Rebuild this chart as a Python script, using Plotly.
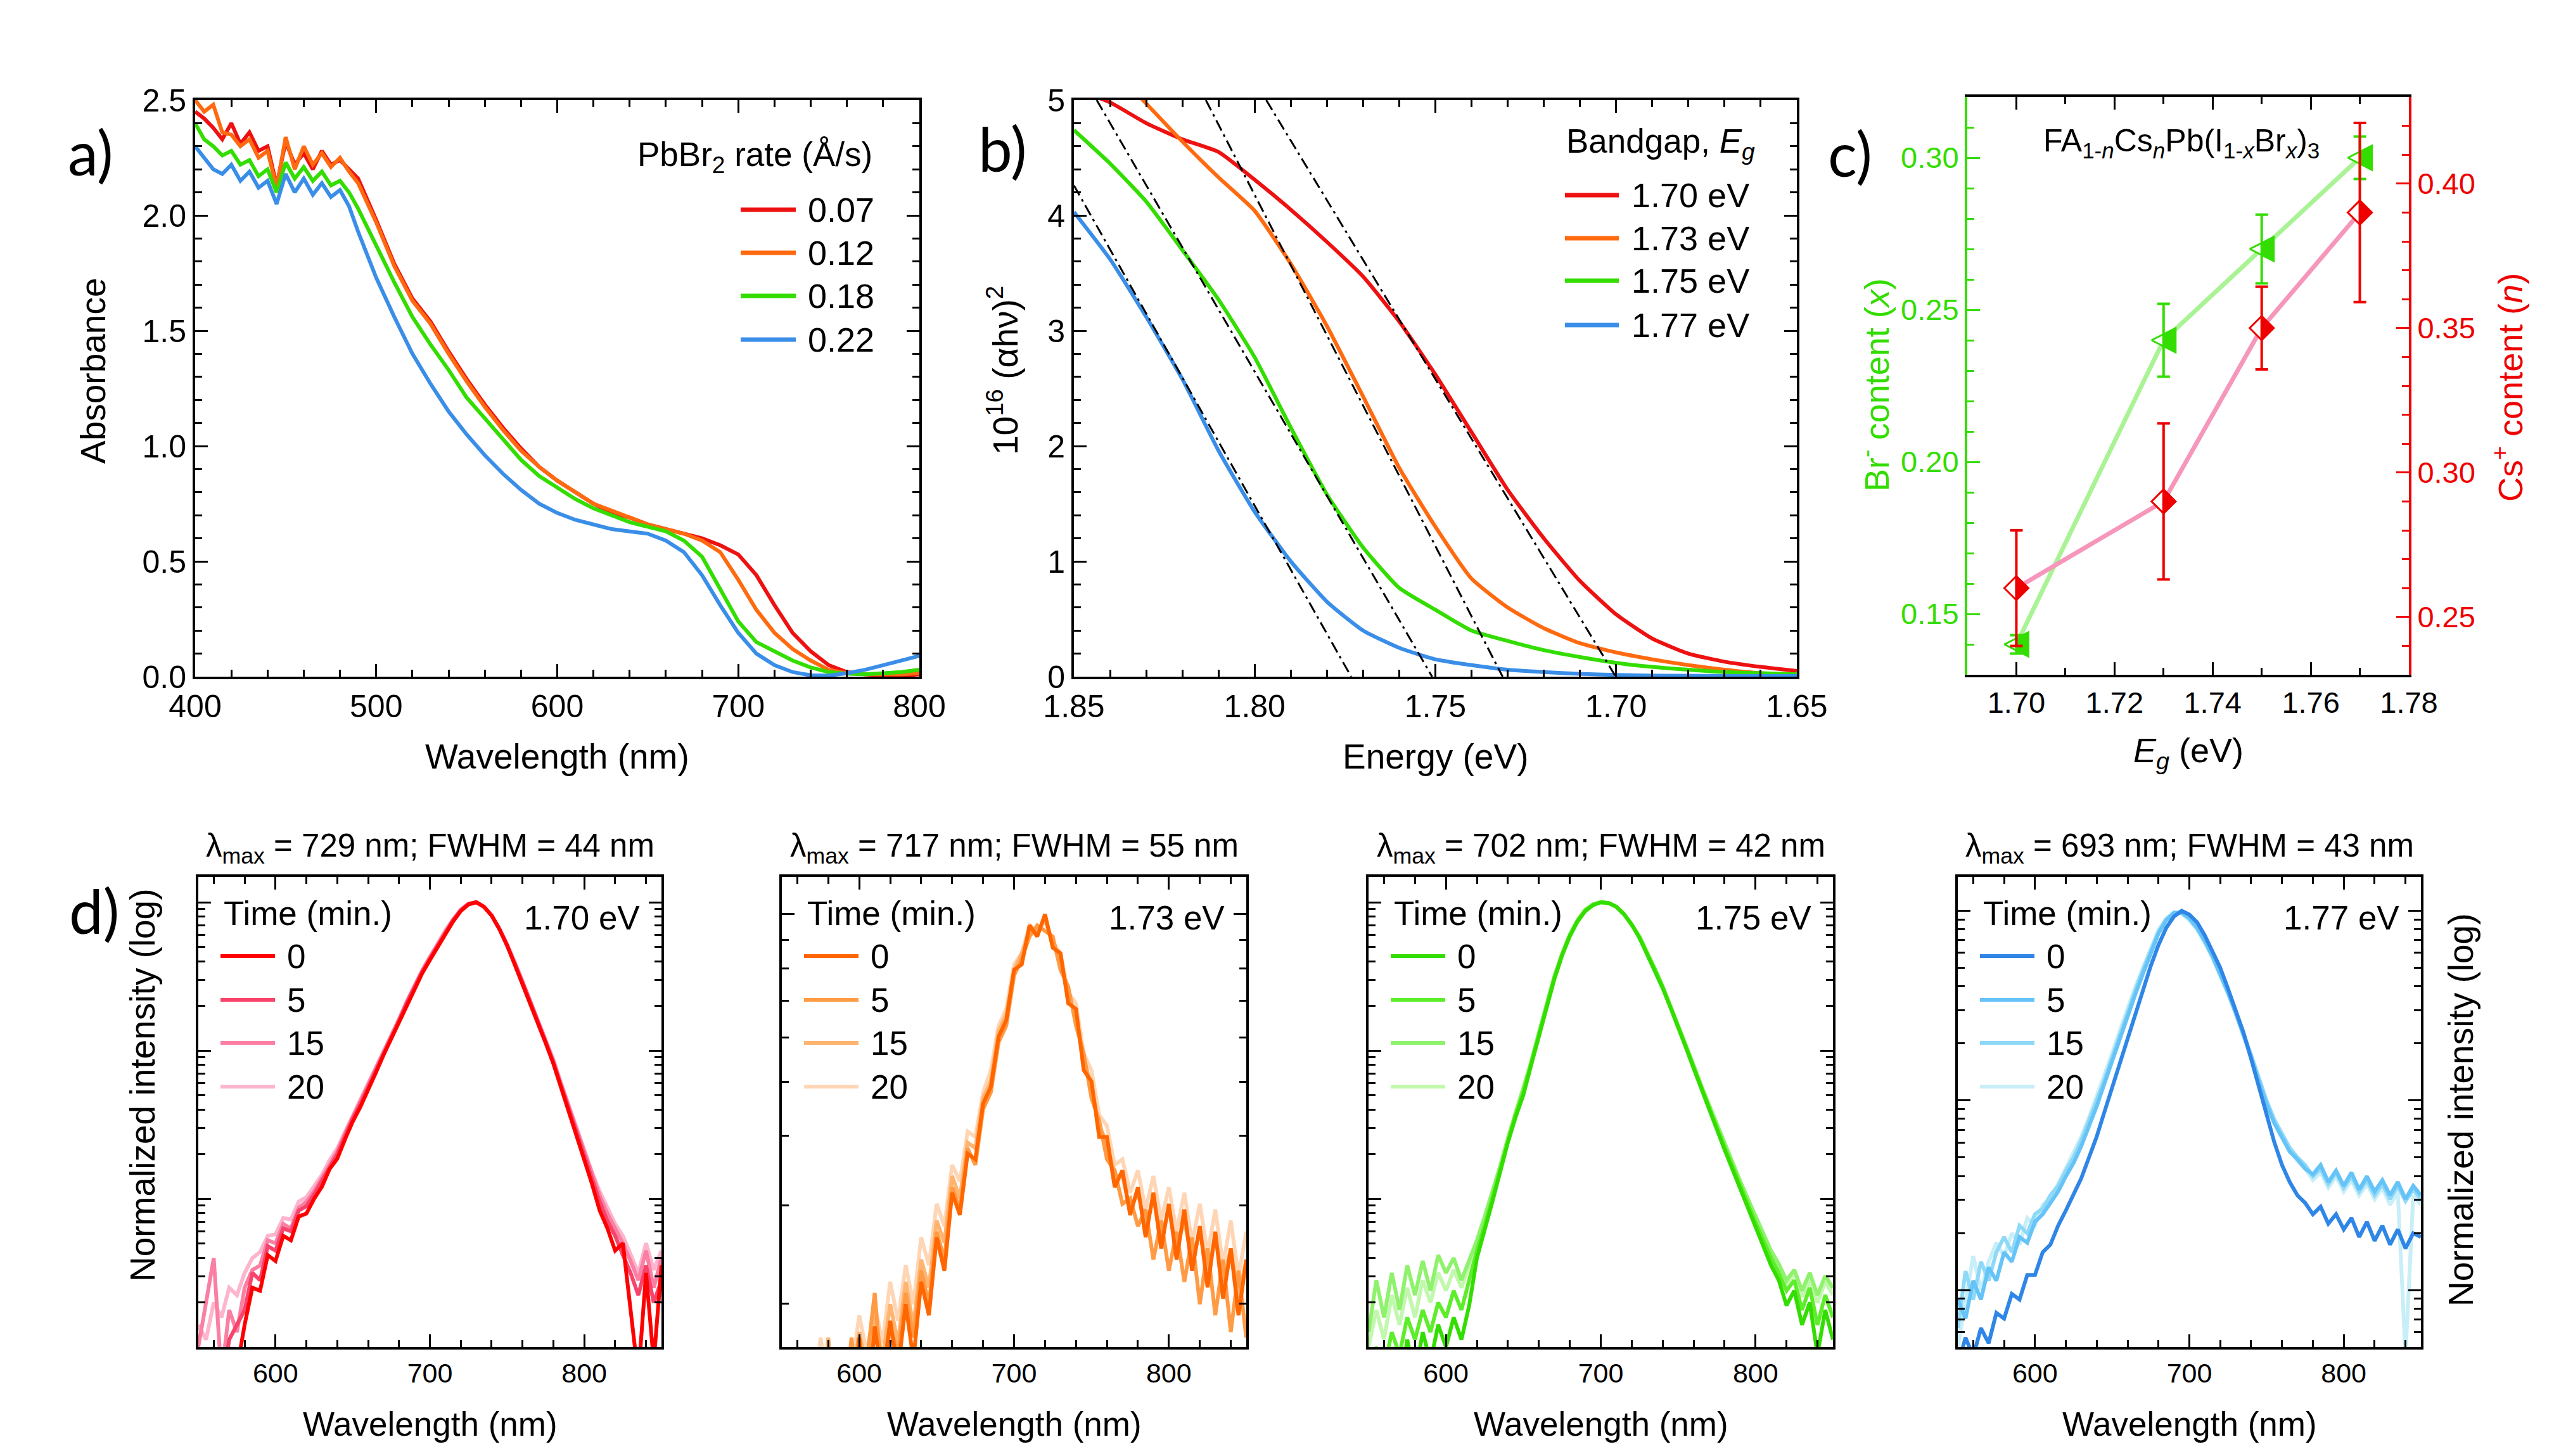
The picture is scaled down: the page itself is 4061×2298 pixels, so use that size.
import plotly.graph_objects as go

W, H = 4061, 2298
FONT = "Liberation Sans, Arial, Helvetica, sans-serif"
LABEL_FONT = "Lato, Open Sans, sans-serif"


def fx(p):
    return p / W


def fy(p):
    return 1 - p / H


# ---------------- panel a: absorbance ----------------
wl_abs = [400, 405, 410, 415, 420, 425, 430, 435, 440, 445, 450, 455, 460, 465, 470, 475, 480, 485, 490,
          500, 510, 520, 530, 540, 550, 560, 570, 580, 590, 600, 610, 620, 630, 640, 650, 660, 670, 680,
          690, 700, 710, 720, 730, 740, 750, 760, 770, 780, 790, 800]
abs_007 = [2.45, 2.42, 2.38, 2.33, 2.40, 2.31, 2.36, 2.28, 2.30, 2.13, 2.32, 2.22, 2.27, 2.20, 2.28, 2.22, 2.24, 2.20, 2.16,
           1.98, 1.79, 1.64, 1.54, 1.41, 1.29, 1.18, 1.08, 0.99, 0.91, 0.85, 0.80, 0.75, 0.71, 0.69, 0.66, 0.64, 0.62, 0.60,
           0.57, 0.53, 0.44, 0.31, 0.19, 0.11, 0.05, 0.02, 0.01, 0.005, 0.005, 0.01]
abs_012 = [2.50, 2.45, 2.48, 2.36, 2.35, 2.30, 2.33, 2.25, 2.28, 2.12, 2.34, 2.20, 2.30, 2.22, 2.27, 2.21, 2.25, 2.19, 2.14,
           1.97, 1.78, 1.63, 1.53, 1.40, 1.28, 1.17, 1.07, 0.98, 0.91, 0.85, 0.80, 0.75, 0.72, 0.69, 0.66, 0.64, 0.62, 0.59,
           0.54, 0.42, 0.29, 0.19, 0.12, 0.07, 0.03, 0.015, 0.01, 0.01, 0.01, 0.015]
abs_018 = [2.40, 2.33, 2.30, 2.26, 2.28, 2.22, 2.24, 2.17, 2.20, 2.10, 2.23, 2.16, 2.21, 2.15, 2.19, 2.13, 2.15, 2.10, 2.03,
           1.87, 1.71, 1.56, 1.44, 1.33, 1.21, 1.12, 1.03, 0.94, 0.87, 0.82, 0.77, 0.73, 0.70, 0.67, 0.65, 0.63, 0.59, 0.52,
           0.38, 0.24, 0.15, 0.11, 0.07, 0.04, 0.02, 0.013, 0.01, 0.015, 0.02, 0.03]
abs_022 = [2.30, 2.25, 2.20, 2.18, 2.22, 2.15, 2.19, 2.12, 2.15, 2.05, 2.18, 2.10, 2.16, 2.09, 2.14, 2.08, 2.11, 2.04, 1.93,
           1.73, 1.56, 1.40, 1.27, 1.15, 1.05, 0.96, 0.88, 0.81, 0.75, 0.71, 0.68, 0.66, 0.64, 0.63, 0.62, 0.59, 0.54, 0.44,
           0.31, 0.19, 0.10, 0.05, 0.02, 0.006, 0.005, 0.015, 0.03, 0.05, 0.07, 0.09]
rate_labels = ["0.07", "0.12", "0.18", "0.22"]

# ---------------- panel b: Tauc plot ----------------
energy_b = [1.85, 1.84, 1.83, 1.82, 1.81, 1.80, 1.79, 1.78, 1.77, 1.76, 1.75, 1.74, 1.73, 1.72, 1.71, 1.70,
            1.69, 1.68, 1.67, 1.66, 1.65]
tauc_170 = [5.1, 4.98, 4.80, 4.66, 4.55, 4.31, 4.05, 3.77, 3.47, 3.08, 2.62, 2.12, 1.62, 1.20, 0.83, 0.54,
            0.33, 0.20, 0.13, 0.085, 0.05]
tauc_173 = [5.6, 5.3, 4.97, 4.64, 4.33, 4.04, 3.58, 3.04, 2.43, 1.81, 1.30, 0.85, 0.60, 0.42, 0.29, 0.21,
            0.15, 0.10, 0.06, 0.03, 0.02]
tauc_175 = [4.74, 4.45, 4.12, 3.70, 3.27, 2.77, 2.16, 1.58, 1.12, 0.77, 0.58, 0.40, 0.31, 0.23, 0.17, 0.12,
            0.085, 0.06, 0.04, 0.03, 0.02]
tauc_177 = [4.03, 3.62, 3.12, 2.58, 1.96, 1.43, 1.00, 0.65, 0.40, 0.25, 0.15, 0.10, 0.06, 0.04, 0.025, 0.015,
            0.01, 0.008, 0.006, 0.005, 0.005]
bandgap_labels = ["1.70 eV", "1.73 eV", "1.75 eV", "1.77 eV"]
# linear fits: start point (E, y) and x-intercept (Eg)
fit_start_E = [1.7968, 1.8135, 1.8437, 1.85]
fit_start_y = [5.0, 5.0, 5.0, 4.26]
fit_Eg = [1.7001, 1.7314, 1.7509, 1.7733]

# ---------------- panel c: composition ----------------
eg_c = [1.70, 1.73, 1.75, 1.77]
br_x = [0.14, 0.24, 0.27, 0.30]
br_err = [0.003, 0.012, 0.0113, 0.007]
cs_n = [0.26, 0.29, 0.35, 0.39]
cs_err = [0.020, 0.027, 0.0143, 0.031]

# ---------------- panel d: PL spectra (log10 of normalized intensity) ----------------
wl_pl = list(range(550, 855, 5))
time_labels = ["0", "5", "15", "20"]

d1_t0 = [-3.3, -3.3, -3.3, -3.3, -3.3, -3.15, -2.85, -2.6, -2.62, -2.38, -2.42, -2.25, -2.28, -2.12, -2.1, -2.0,
         -1.92, -1.8, -1.73, -1.6, -1.48, -1.38, -1.27, -1.15, -1.03, -0.92, -0.81, -0.69, -0.58, -0.48, -0.39,
         -0.3, -0.21, -0.13, -0.06, -0.015, 0.0, -0.03, -0.09, -0.18, -0.29, -0.42, -0.55, -0.68, -0.81, -0.95,
         -1.09, -1.25, -1.41, -1.57, -1.73, -1.9, -2.08, -2.2, -2.35, -2.3, -2.75, -3.2, -2.5, -3.1, -2.45]
d1_t5 = [-3.3, -3.3, -3.1, -3.3, -2.95, -2.85, -2.75, -2.5, -2.55, -2.32, -2.35, -2.2, -2.22, -2.08, -2.05, -1.97,
         -1.88, -1.78, -1.7, -1.58, -1.46, -1.36, -1.25, -1.13, -1.02, -0.91, -0.8, -0.68, -0.57, -0.47, -0.38,
         -0.29, -0.2, -0.12, -0.055, -0.012, 0.0, -0.03, -0.09, -0.18, -0.29, -0.41, -0.54, -0.67, -0.8, -0.94,
         -1.08, -1.24, -1.4, -1.55, -1.7, -1.87, -2.02, -2.15, -2.25, -2.38, -2.5, -2.65, -2.45, -2.7, -2.55]
d1_t15 = [-3.0, -2.7, -2.4, -3.2, -2.75, -2.9, -2.6, -2.48, -2.45, -2.28, -2.3, -2.17, -2.2, -2.06, -2.02, -1.95,
          -1.86, -1.76, -1.68, -1.56, -1.45, -1.35, -1.24, -1.12, -1.01, -0.9, -0.79, -0.67, -0.56, -0.46, -0.37,
          -0.28, -0.2, -0.12, -0.05, -0.01, 0.0, -0.03, -0.09, -0.18, -0.29, -0.41, -0.54, -0.67, -0.8, -0.93,
          -1.07, -1.23, -1.38, -1.53, -1.68, -1.84, -1.98, -2.1, -2.2, -2.3, -2.42, -2.55, -2.35, -2.6, -2.4]
d1_t20 = [-2.85, -2.95, -2.7, -2.8, -2.6, -2.65, -2.5, -2.4, -2.36, -2.25, -2.24, -2.13, -2.14, -2.02, -1.99, -1.92,
          -1.84, -1.74, -1.66, -1.55, -1.44, -1.34, -1.23, -1.11, -1.0, -0.89, -0.78, -0.67, -0.56, -0.46, -0.37,
          -0.28, -0.19, -0.115, -0.05, -0.01, 0.0, -0.03, -0.09, -0.18, -0.28, -0.4, -0.53, -0.66, -0.79, -0.92,
          -1.06, -1.22, -1.37, -1.52, -1.66, -1.82, -1.95, -2.06, -2.17, -2.25, -2.38, -2.5, -2.3, -2.48, -2.35]

d2_t0 = [-0.9, -0.9, -0.9, -0.9, -0.9, -0.9, -0.9, -0.9, -0.85, -0.9, -0.76, -0.9, -0.74, -0.84, -0.73, -0.82,
         -0.7, -0.8, -0.66, -0.72, -0.58, -0.64, -0.5, -0.54, -0.43, -0.44, -0.34, -0.31, -0.22, -0.19, -0.1,
         -0.09, -0.02, -0.04, 0.0, -0.06, -0.07, -0.16, -0.17, -0.28, -0.3, -0.4, -0.4, -0.49, -0.46, -0.54,
         -0.49, -0.58, -0.5, -0.6, -0.52, -0.62, -0.53, -0.64, -0.56, -0.67, -0.57, -0.69, -0.6, -0.72, -0.62]
d2_t5 = [-0.9, -0.9, -0.9, -0.9, -0.9, -0.9, -0.9, -0.9, -0.9, -0.76, -0.9, -0.8, -0.68, -0.85, -0.74, -0.79,
         -0.68, -0.76, -0.64, -0.7, -0.57, -0.62, -0.49, -0.53, -0.42, -0.45, -0.35, -0.32, -0.23, -0.2, -0.11,
         -0.08, -0.04, -0.02, -0.03, -0.04, -0.1, -0.13, -0.2, -0.25, -0.33, -0.37, -0.44, -0.46, -0.52, -0.51,
         -0.56, -0.53, -0.62, -0.55, -0.64, -0.57, -0.66, -0.58, -0.7, -0.6, -0.72, -0.62, -0.75, -0.64, -0.76]
d2_t15 = [-0.9, -0.9, -0.9, -0.9, -0.9, -0.9, -0.76, -0.9, -0.8, -0.85, -0.75, -0.82, -0.72, -0.8, -0.7, -0.77,
          -0.66, -0.74, -0.62, -0.67, -0.55, -0.59, -0.47, -0.51, -0.41, -0.42, -0.33, -0.3, -0.21, -0.18, -0.1,
          -0.07, -0.03, -0.03, -0.01, -0.05, -0.08, -0.15, -0.18, -0.26, -0.31, -0.38, -0.41, -0.47, -0.47, -0.53,
          -0.5, -0.56, -0.51, -0.58, -0.53, -0.6, -0.55, -0.62, -0.57, -0.64, -0.58, -0.66, -0.6, -0.69, -0.62]
d2_t20 = [-0.9, -0.9, -0.9, -0.9, -0.9, -0.76, -0.85, -0.9, -0.78, -0.82, -0.72, -0.79, -0.7, -0.77, -0.66, -0.73,
          -0.63, -0.7, -0.58, -0.63, -0.52, -0.56, -0.45, -0.48, -0.39, -0.4, -0.32, -0.28, -0.2, -0.17, -0.09,
          -0.07, -0.02, -0.03, -0.01, -0.05, -0.07, -0.14, -0.16, -0.25, -0.28, -0.36, -0.38, -0.45, -0.44, -0.5,
          -0.46, -0.53, -0.47, -0.55, -0.49, -0.57, -0.5, -0.59, -0.52, -0.61, -0.53, -0.63, -0.55, -0.65, -0.57]

d3_t0 = [-3.3, -3.1, -3.3, -3.05, -3.3, -2.95, -3.2, -2.9, -3.1, -2.85, -3.0, -2.8, -2.95, -2.72, -2.4, -2.22,
         -2.02, -1.82, -1.62, -1.45, -1.3, -1.1, -0.9, -0.7, -0.52, -0.36, -0.23, -0.13, -0.06, -0.02, 0.0,
         -0.005, -0.03, -0.08, -0.15, -0.24, -0.35, -0.46, -0.58, -0.71, -0.84, -0.98, -1.12, -1.26, -1.4, -1.54,
         -1.67, -1.8, -1.93, -2.06, -2.2, -2.33, -2.45, -2.55, -2.72, -2.62, -2.85, -2.7, -3.05, -2.75, -2.95]
d3_t5 = [-3.2, -3.0, -3.15, -2.9, -3.05, -2.8, -2.95, -2.75, -2.9, -2.7, -2.8, -2.62, -2.75, -2.55, -2.35, -2.18,
         -1.99, -1.8, -1.6, -1.43, -1.28, -1.09, -0.89, -0.69, -0.51, -0.35, -0.22, -0.125, -0.055, -0.015, 0.0,
         -0.005, -0.03, -0.08, -0.15, -0.24, -0.34, -0.45, -0.57, -0.7, -0.83, -0.97, -1.11, -1.25, -1.39, -1.52,
         -1.65, -1.78, -1.9, -2.03, -2.16, -2.28, -2.4, -2.5, -2.62, -2.55, -2.75, -2.6, -2.85, -2.65, -2.8]
d3_t15 = [-2.9, -2.55, -2.8, -2.5, -2.75, -2.45, -2.65, -2.42, -2.62, -2.38, -2.5, -2.4, -2.55, -2.42, -2.28, -2.12,
          -1.96, -1.78, -1.59, -1.42, -1.27, -1.08, -0.88, -0.68, -0.5, -0.35, -0.22, -0.12, -0.05, -0.015, 0.0,
          -0.005, -0.03, -0.08, -0.15, -0.23, -0.34, -0.45, -0.57, -0.7, -0.83, -0.96, -1.1, -1.24, -1.37, -1.5,
          -1.63, -1.76, -1.88, -2.0, -2.12, -2.24, -2.35, -2.44, -2.55, -2.48, -2.62, -2.5, -2.65, -2.52, -2.6]
d3_t20 = [-3.0, -2.75, -2.95, -2.65, -2.85, -2.6, -2.8, -2.55, -2.7, -2.5, -2.62, -2.48, -2.6, -2.45, -2.3, -2.14,
          -1.97, -1.79, -1.6, -1.43, -1.27, -1.08, -0.88, -0.68, -0.5, -0.35, -0.22, -0.12, -0.05, -0.015, 0.0,
          -0.005, -0.03, -0.08, -0.15, -0.23, -0.34, -0.45, -0.57, -0.7, -0.83, -0.96, -1.1, -1.24, -1.37, -1.5,
          -1.63, -1.76, -1.88, -2.0, -2.13, -2.25, -2.36, -2.46, -2.58, -2.5, -2.66, -2.55, -2.7, -2.56, -2.65]

d4_t0 = [-2.4, -2.25, -2.35, -2.2, -2.28, -2.12, -2.15, -2.02, -2.05, -1.92, -1.92, -1.8, -1.76, -1.66, -1.58, -1.5,
         -1.41, -1.3, -1.19, -1.06, -0.93, -0.8, -0.67, -0.54, -0.41, -0.29, -0.18, -0.09, -0.03, 0.0, -0.02,
         -0.06, -0.13, -0.21, -0.3, -0.41, -0.52, -0.64, -0.78, -0.93, -1.08, -1.22, -1.34, -1.43, -1.5, -1.54,
         -1.6, -1.56, -1.65, -1.6, -1.68, -1.62, -1.72, -1.64, -1.74, -1.66, -1.76, -1.68, -1.78, -1.7, -1.72]
d4_t5 = [-2.05, -2.15, -1.95, -2.05, -1.88, -1.95, -1.8, -1.85, -1.72, -1.75, -1.64, -1.6, -1.54, -1.48, -1.4, -1.33,
         -1.24, -1.14, -1.03, -0.91, -0.79, -0.67, -0.55, -0.44, -0.33, -0.22, -0.12, -0.05, -0.01, -0.01, -0.04,
         -0.09, -0.16, -0.24, -0.33, -0.43, -0.54, -0.65, -0.77, -0.9, -1.02, -1.12, -1.2, -1.27, -1.31, -1.36,
         -1.39, -1.34, -1.43, -1.37, -1.45, -1.38, -1.47, -1.4, -1.48, -1.42, -1.5, -1.43, -1.52, -1.45, -1.5]
d4_t15 = [-2.2, -1.9, -2.05, -1.85, -1.95, -1.8, -1.72, -1.8, -1.66, -1.7, -1.6, -1.57, -1.5, -1.45, -1.37, -1.3,
          -1.21, -1.11, -1.0, -0.89, -0.77, -0.65, -0.53, -0.42, -0.31, -0.21, -0.11, -0.045, -0.01, -0.01, -0.04,
          -0.09, -0.16, -0.24, -0.33, -0.43, -0.53, -0.64, -0.76, -0.88, -1.0, -1.1, -1.18, -1.25, -1.3, -1.34,
          -1.4, -1.36, -1.44, -1.38, -1.46, -1.4, -1.48, -1.42, -1.5, -1.44, -1.52, -1.45, -1.53, -1.47, -1.52]
d4_t20 = [-2.3, -2.05, -1.82, -2.0, -1.85, -1.75, -1.82, -1.7, -1.76, -1.62, -1.66, -1.55, -1.52, -1.44, -1.36, -1.28,
          -1.19, -1.09, -0.98, -0.87, -0.75, -0.63, -0.51, -0.4, -0.3, -0.2, -0.1, -0.04, -0.01, -0.015, -0.05,
          -0.1, -0.17, -0.25, -0.34, -0.44, -0.54, -0.65, -0.77, -0.89, -1.01, -1.11, -1.19, -1.26, -1.32, -1.36,
          -1.42, -1.38, -1.46, -1.4, -1.48, -1.42, -1.5, -1.44, -1.52, -1.46, -1.55, -1.48, -2.35, -1.5, -1.55]

pl_sets = [
    dict(series=[d1_t0, d1_t5, d1_t15, d1_t20], colors=["#ff0000", "#f8436b", "#fa7fa3", "#fdb5cd"],
         title="λ<sub>max</sub> = 729 nm; FWHM = 44 nm", eg="1.70 eV", yr=[-3.0, 0.171]),
    dict(series=[d2_t0, d2_t5, d2_t15, d2_t20], colors=["#ff6600", "#ff9b45", "#ffb470", "#ffd6b5"],
         title="λ<sub>max</sub> = 717 nm; FWHM = 55 nm", eg="1.73 eV", yr=[-0.777, 0.067]),
    dict(series=[d3_t0, d3_t5, d3_t15, d3_t20], colors=["#33dd00", "#5ded2a", "#8ef26c", "#c2f8ae"],
         title="λ<sub>max</sub> = 702 nm; FWHM = 42 nm", eg="1.75 eV", yr=[-3.0, 0.171]),
    dict(series=[d4_t0, d4_t5, d4_t15, d4_t20], colors=["#2f86e6", "#66c3f7", "#8fd9f8", "#c8eef8"],
         title="λ<sub>max</sub> = 693 nm; FWHM = 43 nm", eg="1.77 eV", yr=[-2.30, 0.179]),
]

# ---------------- layout boxes (pixels) ----------------
BOX_A = (300, 1443, 150, 1060)
BOX_B = (1687, 2828, 150, 1060)
BOX_C = (3097, 3794, 145, 1057)
BOX_D = [(305, 1036), (1226, 1959), (2152, 2885), (3082, 3813)]
D_TOP, D_BOT = 1376, 2118

COL4 = ["#ee1111", "#ff6a10", "#33dd00", "#3a8ee8"]
GREEN_AX = "#33dd00"
RED_AX = "#ee0000"

fig = go.Figure()

# panel a
for ys, c in zip([abs_007, abs_012, abs_018, abs_022], COL4):
    fig.add_trace(go.Scatter(x=wl_abs, y=ys, mode="lines", line=dict(color=c, width=6),
                             xaxis="x", yaxis="y", showlegend=False))

# panel b
for ys, c in zip([tauc_170, tauc_173, tauc_175, tauc_177], COL4):
    fig.add_trace(go.Scatter(x=energy_b, y=ys, mode="lines", line=dict(color=c, width=6, shape="spline", smoothing=0.5),
                             xaxis="x2", yaxis="y2", showlegend=False))
for e0, y0, eg in zip(fit_start_E, fit_start_y, fit_Eg):
    fig.add_trace(go.Scatter(x=[e0, eg], y=[y0, 0], mode="lines",
                             line=dict(color="black", width=3, dash="18px,7px,4px,7px"),
                             xaxis="x2", yaxis="y2", showlegend=False))

# panel c
XR_C = [1.69, 1.78]
YR_C1 = [0.130, 0.320]
YR_C2 = [0.230, 0.430]
sx = (BOX_C[1] - BOX_C[0]) / (XR_C[1] - XR_C[0])
sy1 = (BOX_C[3] - BOX_C[2]) / (YR_C1[1] - YR_C1[0])
sy2 = (BOX_C[3] - BOX_C[2]) / (YR_C2[1] - YR_C2[0])
R = 19

fig.add_trace(go.Scatter(x=eg_c, y=br_x, mode="lines", line=dict(color="#a9f394", width=7),
                         xaxis="x3", yaxis="y3", showlegend=False))
ox, oy, hx, hy = [], [], [], []
for x, y in zip(eg_c, br_x):
    dx, dy = R / sx, R / sy1
    ox += [x - dx, x + dx, x + dx, x - dx, None]
    oy += [y, y + dy, y - dy, y, None]
    hx += [x, x + dx, x + dx, x, x, None]
    hy += [y + dy / 2, y + dy, y - dy, y - dy / 2, y + dy / 2, None]
fig.add_trace(go.Scatter(x=ox, y=oy, mode="lines", fill="toself", fillcolor="white",
                         line=dict(color=GREEN_AX, width=3), xaxis="x3", yaxis="y3", showlegend=False))
fig.add_trace(go.Scatter(x=hx, y=hy, mode="lines", fill="toself", fillcolor=GREEN_AX,
                         line=dict(color=GREEN_AX, width=2), xaxis="x3", yaxis="y3", showlegend=False))
fig.add_trace(go.Scatter(x=eg_c, y=br_x, mode="markers", marker=dict(size=1, color="rgba(0,0,0,0)"),
                         error_y=dict(type="data", array=br_err, color=GREEN_AX, thickness=4, width=10),
                         xaxis="x3", yaxis="y3", showlegend=False))

fig.add_trace(go.Scatter(x=eg_c, y=cs_n, mode="lines", line=dict(color="#f696bb", width=7),
                         xaxis="x3", yaxis="y4", showlegend=False))
ox, oy, hx, hy = [], [], [], []
for x, y in zip(eg_c, cs_n):
    dx, dy = R / sx, R / sy2
    ox += [x, x + dx, x, x - dx, x, None]
    oy += [y + dy, y, y - dy, y, y + dy, None]
    hx += [x, x + dx, x, x, None]
    hy += [y + dy, y, y - dy, y + dy, None]
fig.add_trace(go.Scatter(x=ox, y=oy, mode="lines", fill="toself", fillcolor="white",
                         line=dict(color=RED_AX, width=3), xaxis="x3", yaxis="y4", showlegend=False))
fig.add_trace(go.Scatter(x=hx, y=hy, mode="lines", fill="toself", fillcolor=RED_AX,
                         line=dict(color=RED_AX, width=2), xaxis="x3", yaxis="y4", showlegend=False))
fig.add_trace(go.Scatter(x=eg_c, y=cs_n, mode="markers", marker=dict(size=1, color="rgba(0,0,0,0)"),
                         error_y=dict(type="data", array=cs_err, color=RED_AX, thickness=4, width=10),
                         xaxis="x3", yaxis="y4", showlegend=False))

# panel d
for i, s in enumerate(pl_sets):
    xa, ya = "x%d" % (4 + i), "y%d" % (5 + i)
    for k in [3, 2, 1, 0]:
        fig.add_trace(go.Scatter(x=wl_pl, y=[10 ** v for v in s["series"][k]], mode="lines",
                                 line=dict(color=s["colors"][k], width=6),
                                 xaxis=xa, yaxis=ya, showlegend=False))


def axis(domain, rng, dtick, mdtick, tick0=None, fsize=50, color="black", mirror="ticks", **kw):
    d = dict(domain=domain, range=rng, dtick=dtick, showline=True, linecolor=color, linewidth=4,
             mirror=mirror, ticks="inside", ticklen=20, tickwidth=3, tickcolor=color,
             showgrid=False, zeroline=False, automargin=False,
             tickfont=dict(family=FONT, size=fsize, color=color),
             minor=dict(ticks="inside", ticklen=11, tickwidth=3, tickcolor=color, dtick=mdtick, showgrid=False))
    if tick0 is not None:
        d["tick0"] = tick0
        d["minor"]["tick0"] = tick0
    d.update(kw)
    return d


lay = {}
lay["xaxis"] = axis([fx(BOX_A[0]), fx(BOX_A[1])], [400, 800], 100, 20, anchor="y")
lay["yaxis"] = axis([fy(BOX_A[3]), fy(BOX_A[2])], [0, 2.5], 0.5, 0.1, tick0=0, tickformat=".1f", anchor="x")
lay["xaxis2"] = axis([fx(BOX_B[0]), fx(BOX_B[1])], [1.85, 1.65], 0.05, 0.01, tick0=1.65, tickformat=".2f", anchor="y2")
lay["yaxis2"] = axis([fy(BOX_B[3]), fy(BOX_B[2])], [0, 5], 1, 0.2, tick0=0, anchor="x2")
lay["xaxis3"] = axis([fx(BOX_C[0]), fx(BOX_C[1])], XR_C, 0.02, 0.01, tick0=1.70, tickformat=".2f",
                     fsize=47, anchor="y3")
lay["yaxis3"] = axis([fy(BOX_C[3]), fy(BOX_C[2])], YR_C1, 0.05, 0.01, tick0=0.15, tickformat=".2f",
                     fsize=47, color=GREEN_AX, mirror=False, anchor="x3")
lay["yaxis4"] = axis([fy(BOX_C[3]), fy(BOX_C[2])], YR_C2, 0.05, 0.01, tick0=0.25, tickformat=".2f",
                     fsize=47, color=RED_AX, mirror=False, anchor="x3", overlaying="y3", side="right")
for i, (l, r) in enumerate(BOX_D):
    lay["xaxis%d" % (4 + i)] = axis([fx(l), fx(r)], [550, 850], 100, 20, tick0=600, fsize=43,
                                    anchor="y%d" % (5 + i))
    ya = axis([fy(D_BOT), fy(D_TOP)], pl_sets[i]["yr"], 1, "D1", anchor="x%d" % (4 + i))
    ya["type"] = "log"
    ya["showticklabels"] = False
    ya["minor"].pop("tick0", None)
    lay["yaxis%d" % (5 + i)] = ya

ann = []
shapes = []


def text(x, y, s, size, color="black", xanchor="center", yanchor="middle", angle=0, family=FONT):
    ann.append(dict(x=fx(x), y=fy(y), xref="paper", yref="paper", text=s, showarrow=False,
                    font=dict(family=family, size=size, color=color), xanchor=xanchor, yanchor=yanchor,
                    textangle=angle))


def legline(x0, x1, y, color, w=7):
    shapes.append(dict(type="line", xref="paper", yref="paper", x0=fx(x0), x1=fx(x1), y0=fy(y), y1=fy(y),
                       line=dict(color=color, width=w)))


# panel labels
text(135, 232, "a)", 96, family=LABEL_FONT)
text(1574, 226, "b)", 96, family=LABEL_FONT)
text(2912, 234, "c)", 96, family=LABEL_FONT)
text(140, 1428, "d)", 96, family=LABEL_FONT)

# panel a titles & legend
text((BOX_A[0] + BOX_A[1]) / 2, 1186, "Wavelength (nm)", 55)
text(139, 577, "Absorbance", 55, angle=-90)
text(1371, 240, "PbBr<sub>2</sub> rate (Å/s)", 53, xanchor="right")
for lab, c, yy in zip(rate_labels, COL4, [323, 391, 459, 528]):
    legline(1161, 1248, yy, c)
    text(1265, yy, lab, 54, xanchor="left")

# panel b
text((BOX_B[0] + BOX_B[1]) / 2, 1186, "Energy (eV)", 55)
text(1575, 577, "10<sup>16</sup> (αhν)<sup>2</sup>", 55, angle=-90)
text(2462, 219, "Bandgap, <i>E<sub>g</sub></i>", 53, xanchor="left")
for lab, c, yy in zip(bandgap_labels, COL4, [300, 368, 435, 505]):
    legline(2462, 2547, yy, c)
    text(2565, yy, lab, 54, xanchor="left")

# panel c
text((BOX_C[0] + BOX_C[1]) / 2, 1180, "<i>E<sub>g</sub></i> (eV)", 54)
text(2950, 600, "Br<sup>-</sup> content (<i>x</i>)", 54, color=GREEN_AX, angle=-90)
text(3950, 604, "Cs<sup>+</sup> content (<i>n</i>)", 54, color=RED_AX, angle=-90)
text(3435, 217, "FA<sub>1-<i>n</i></sub>Cs<sub><i>n</i></sub>Pb(I<sub>1-<i>x</i></sub>Br<sub><i>x</i></sub>)<sub>3</sub>", 50)

# panel d
for (l, r), s in zip(BOX_D, pl_sets):
    text((l + r) / 2, 1330, s["title"], 51)
    text((l + r) / 2, 2239, "Wavelength (nm)", 53)
    text(r - 32, 1440, s["eg"], 53, xanchor="right")
    text(l + 38, 1433, "Time (min.)", 53, xanchor="left")
    for lab, c, yy in zip(time_labels, s["colors"], [1501, 1570, 1638, 1707]):
        legline(l + 35, l + 121, yy, c, 6)
        text(l + 138, yy, lab, 53, xanchor="left")
text(217, 1705, "Normalized intensity (log)", 55, angle=-90)
text(3876, 1744, "Normalized intensity (log)", 55, angle=-90)

fig.update_layout(width=W, height=H, autosize=False,
                  margin=dict(l=0, r=0, t=0, b=0, pad=0, autoexpand=False),
                  paper_bgcolor="white", plot_bgcolor="white",
                  font=dict(family=FONT, color="black"),
                  annotations=ann, shapes=shapes, showlegend=False, **lay)

fig.write_html("out.html")
